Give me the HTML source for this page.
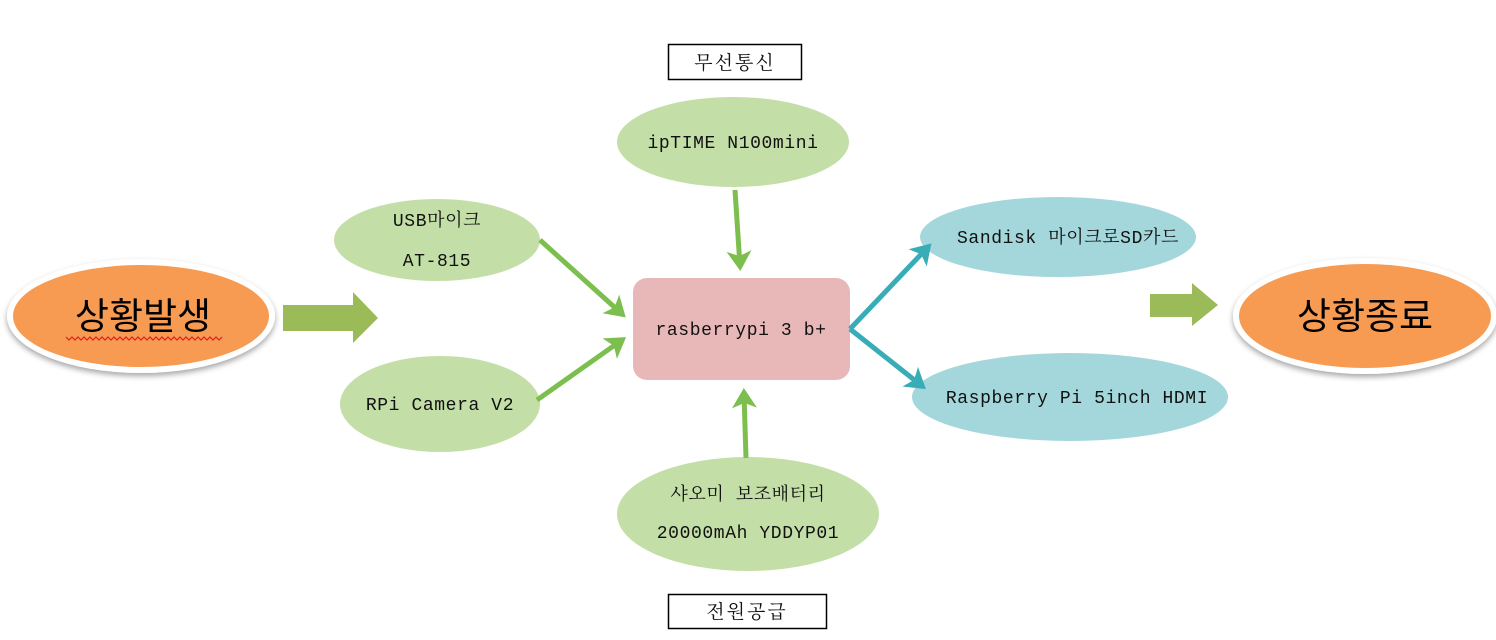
<!DOCTYPE html>
<html><head><meta charset="utf-8"><style>
html,body{margin:0;padding:0;background:#fff;}
svg{display:block;}
text{font-family:"Liberation Mono","Noto Serif CJK SC","Noto Sans CJK KR",monospace;font-size:18px;fill:#111;letter-spacing:0.6px;}
.k{font-size:19px;letter-spacing:2px;}
.big{font-family:"Liberation Sans","Noto Sans CJK KR",sans-serif;font-size:37px;fill:#000;letter-spacing:0;}
</style></head><body>
<svg width="1496" height="640" viewBox="0 0 1496 640" xmlns="http://www.w3.org/2000/svg">
<defs>
<filter id="sh" x="-20%" y="-20%" width="140%" height="150%"><feDropShadow dx="0" dy="3" stdDeviation="3" flood-color="#000" flood-opacity="0.35"/></filter>
<marker id="ag" markerWidth="5" markerHeight="5" refX="3" refY="2.5" orient="auto" markerUnits="strokeWidth"><path d="M0,0 L4,2.5 L0,5 L1,2.5z" fill="#7dbf4e"/></marker>
<marker id="at" markerWidth="5" markerHeight="5" refX="3" refY="2.5" orient="auto" markerUnits="strokeWidth"><path d="M0,0 L4,2.5 L0,5 L1,2.5z" fill="#38adb8"/></marker>
</defs>

<rect x="668.5" y="44.5" width="133" height="35" fill="#fff" stroke="#000" stroke-width="1.5"/>
<text class="k" x="735" y="69" text-anchor="middle">무선통신</text>
<rect x="668.5" y="594.5" width="158" height="34" fill="#fff" stroke="#000" stroke-width="1.5"/>
<text class="k" x="747" y="618" text-anchor="middle">전원공급</text>

<ellipse cx="141" cy="316" rx="134" ry="57" fill="#fff" filter="url(#sh)"/>
<ellipse cx="141" cy="316" rx="128" ry="51" fill="#f79a52"/>
<text class="big" x="143" y="329" text-anchor="middle">상황발생</text>
<path d="M66,337 l3,3 3,-3 3,3 3,-3 3,3 3,-3 3,3 3,-3 3,3 3,-3 3,3 3,-3 3,3 3,-3 3,3 3,-3 3,3 3,-3 3,3 3,-3 3,3 3,-3 3,3 3,-3 3,3 3,-3 3,3 3,-3 3,3 3,-3 3,3 3,-3 3,3 3,-3 3,3 3,-3 3,3 3,-3 3,3 3,-3 3,3 3,-3 3,3 3,-3 3,3 3,-3 3,3 3,-3 3,3 3,-3 3,3 3,-3" fill="none" stroke="#e02020" stroke-width="1.2"/>

<path d="M283,305 H353 V292 L378,318 L353,343 V331 H283Z" fill="#9bbb59"/>
<path d="M1150,294 H1192 V283 L1218,305 L1192,326 V317 H1150Z" fill="#9bbb59"/>

<ellipse cx="1365" cy="316" rx="132" ry="58" fill="#fff" filter="url(#sh)"/>
<ellipse cx="1365" cy="316" rx="126" ry="52" fill="#f79a52"/>
<text class="big" x="1365" y="329" text-anchor="middle">상황종료</text>

<ellipse cx="437" cy="240" rx="103" ry="41" fill="#c3dfa7"/>
<text x="437" y="226" text-anchor="middle">USB마이크</text>
<text x="437" y="266" text-anchor="middle">AT-815</text>
<ellipse cx="440" cy="404" rx="100" ry="48" fill="#c3dfa7"/>
<text x="440" y="410" text-anchor="middle">RPi Camera V2</text>
<ellipse cx="733" cy="142" rx="116" ry="45" fill="#c3dfa7"/>
<text x="733" y="148" text-anchor="middle">ipTIME N100mini</text>
<ellipse cx="748" cy="514" rx="131" ry="57" fill="#c3dfa7"/>
<text x="748" y="500" text-anchor="middle">샤오미 보조배터리</text>
<text x="748" y="538" text-anchor="middle">20000mAh YDDYP01</text>

<ellipse cx="1058" cy="237" rx="138" ry="40" fill="#a3d7db"/>
<text x="1068" y="243" text-anchor="middle">Sandisk 마이크로SD카드</text>
<ellipse cx="1070" cy="397" rx="158" ry="44" fill="#a3d7db"/>
<text x="1077" y="403" text-anchor="middle">Raspberry Pi 5inch HDMI</text>

<rect x="633" y="278" width="217" height="102" rx="14" fill="#e8b8b9"/>
<text x="741" y="335" text-anchor="middle">rasberrypi 3 b+</text>

<g fill="none" stroke-width="5">
<line x1="540" y1="240" x2="622" y2="314" stroke="#7dbf4e" marker-end="url(#ag)"/>
<line x1="537" y1="400" x2="622" y2="340" stroke="#7dbf4e" marker-end="url(#ag)"/>
<line x1="735" y1="190" x2="740" y2="266" stroke="#7dbf4e" marker-end="url(#ag)"/>
<line x1="746" y1="458" x2="744" y2="393" stroke="#7dbf4e" marker-end="url(#ag)"/>
<line x1="850" y1="329" x2="928" y2="247" stroke="#38adb8" marker-end="url(#at)"/>
<line x1="850" y1="329" x2="922" y2="386" stroke="#38adb8" marker-end="url(#at)"/>
</g>
</svg>
</body></html>
